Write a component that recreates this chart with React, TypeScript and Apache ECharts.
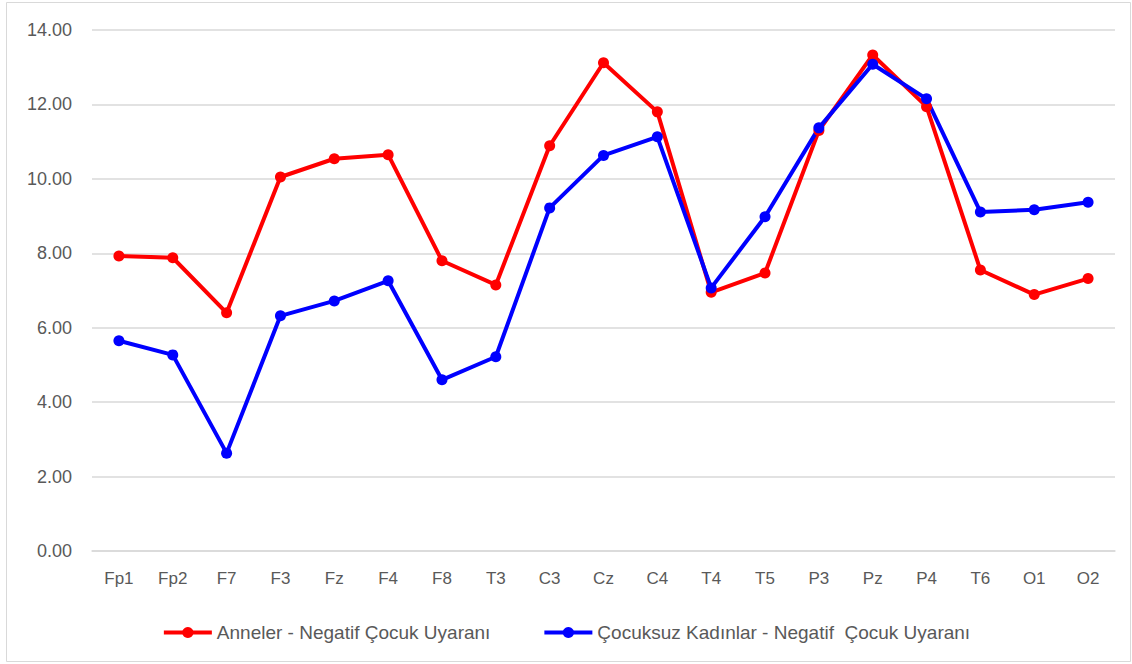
import React, { useEffect, useRef } from "react";
import * as echarts from "echarts";

const categories = ["Fp1", "Fp2", "F7", "F3", "Fz", "F4", "F8", "T3", "C3", "Cz", "C4", "T4", "T5", "P3", "Pz", "P4", "T6", "O1", "O2"];
const anneler = [7.93, 7.88, 6.40, 10.05, 10.54, 10.65, 7.80, 7.15, 10.89, 13.12, 11.80, 6.95, 7.47, 11.30, 13.33, 11.94, 7.55, 6.89, 7.32];
const cocuksuz = [5.65, 5.27, 2.63, 6.32, 6.72, 7.26, 4.60, 5.22, 9.22, 10.63, 11.13, 7.07, 8.98, 11.37, 13.08, 12.15, 9.11, 9.17, 9.37];
const seriesNames = ["Anneler - Negatif Çocuk Uyaranı", "Çocuksuz Kadınlar - Negatif  Çocuk Uyaranı"];

export default function App() {
  const ref = useRef<HTMLDivElement>(null);
  useEffect(() => {
    if (!ref.current) return;
    const chart = echarts.init(ref.current, null, { renderer: "svg" });
    const font = "'Liberation Sans', Arial, sans-serif";
    chart.setOption({
      animation: false,
      backgroundColor: "#ffffff",
      textStyle: { fontFamily: font },
      graphic: [
        {
          type: "rect",
          shape: { x: 6.5, y: 2.5, width: 1124, height: 659 },
          style: { fill: "none", stroke: "#d9d9d9", lineWidth: 1 },
          silent: true,
        },
      ],
      grid: { left: 92, right: 17, top: 30, bottom: 113, containLabel: false },
      legend: {
        top: 618,
        left: "center",
        itemWidth: 48,
        itemHeight: 14,
        itemGap: 52,
        lineStyle: { width: 4 },
        textStyle: { color: "#595959", fontSize: 19, fontFamily: font },
        data: seriesNames,
      },
      xAxis: {
        type: "category",
        data: categories,
        boundaryGap: true,
        axisLine: { show: true, lineStyle: { color: "#d9d9d9", width: 1.5 } },
        axisTick: { show: false },
        axisLabel: { color: "#595959", fontSize: 17, margin: 19, fontFamily: font },
      },
      yAxis: {
        type: "value",
        min: 0,
        max: 14,
        interval: 2,
        axisLine: { show: false },
        axisTick: { show: false },
        splitLine: { lineStyle: { color: "#d9d9d9", width: 1.5 } },
        axisLabel: {
          color: "#595959",
          fontSize: 18,
          margin: 20,
          fontFamily: font,
          formatter: (v: number) => v.toFixed(2),
        },
      },
      series: [
        {
          name: seriesNames[0],
          type: "line",
          data: anneler,
          symbol: "circle",
          symbolSize: 11,
          lineStyle: { color: "#ff0000", width: 4 },
          itemStyle: { color: "#ff0000" },
        },
        {
          name: seriesNames[1],
          type: "line",
          data: cocuksuz,
          symbol: "circle",
          symbolSize: 11,
          lineStyle: { color: "#0000ff", width: 4 },
          itemStyle: { color: "#0000ff" },
        },
      ],
    });
    return () => chart.dispose();
  }, []);
  return (
    <div style={{ position: "absolute", left: 0, top: 0, width: 1132, height: 664 }}>
      <div ref={ref} style={{ width: 1132, height: 664 }} />
    </div>
  );
}
